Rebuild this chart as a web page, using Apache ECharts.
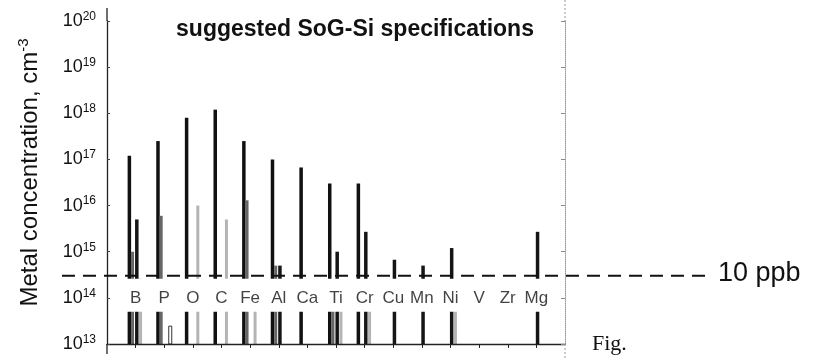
<!DOCTYPE html>
<html>
<head>
<meta charset="utf-8">
<script src="https://cdn.jsdelivr.net/npm/echarts@6/dist/echarts.min.js"></script>
<style>
html,body{margin:0;padding:0;background:#fff;}
#spec_chart{width:828px;height:358px;}
</style>
</head>
<body>
<div id="spec_chart"></div>
<script>
/** 数据 **/
var elements = ['B','P','O','C','Fe','Al','Ca','Ti','Cr','Cu','Mn','Ni','V','Zr','Mg'];
var mainBlack = [1.2e17, 2.5e17, 8e17, 1.2e18, 2.5e17, 1e17, 6.7e16, 3e16, 3e16, null, null, null, null, null, null];
var secondBlack = [5e15, null, null, null, null, 5e14, null, 1e15, 2.7e15, 6.7e14, 5e14, 1.2e15, null, null, 2.7e15];
var midGray = [1e15, 6e15, null, null, 1.3e16, 5e14, null, 2e14, null, null, null, null, null, null, null];
var lightGray = [2.6e14, null, 1e16, 5e15, 1.5e14, null, null, 2e14, 2e14, null, null, 2e14, null, null, null];
var hollowBar = [null, 2.5e13, null, null, null, null, null, null, null, null, null, null, null, null, null];
var yTicks = [1e13, 1e14, 1e15, 1e16, 1e17, 1e18, 1e19, 1e20];
var ppbLevel = 3e14;
var bandLow = 5e13, bandHigh = 2.6e14;

var FONT = '"Liberation Sans", Arial, sans-serif';

function supLabel(v) {
    var e = Math.round(Math.log(v) / Math.LN10);
    return '{b|10}{s|' + e + '}';
}

/** 柱子 **/
function barSeries(values, shift, width, color, border) {
    var data = [];
    for (var i = 0; i < values.length; i++) {
        if (values[i] != null) data.push([i + 1 + shift, values[i]]);
    }
    return {
        type: 'bar',
        data: data,
        barWidth: width,
        barGap: '-100%',
        clip: true,
        z: 2,
        itemStyle: {
            color: color,
            borderColor: border || color,
            borderWidth: border ? 1 : 0
        }
    };
}

function getSpecOption() {
    var labelData = elements.map(function (e, i) { return [i + 1, 1e14]; });
    var ticks = elements.map(function (e, i) { return i + 1; });
    return {
        animation: false,
        title: {
            text: 'suggested SoG-Si specifications',
            left: 350,
            top: 13,
            textAlign: 'center',
            textStyle: { fontFamily: FONT, fontSize: 23, fontWeight: 'bold', color: '#111' }
        },
        grid: { left: 107, right: 263, top: 21, bottom: 14 },
        xAxis: {
            type: 'value',
            min: 0,
            max: 16,
            z: 10,
            axisLine: { show: true, lineStyle: { color: '#222', width: 1.3 } },
            axisTick: { show: true, length: 4, customValues: ticks, lineStyle: { color: '#222' } },
            axisLabel: { show: false },
            splitLine: { show: false }
        },
        yAxis: [{
            type: 'log',
            min: 1e13,
            max: 1e20,
            splitNumber: 7,
            z: 10,
            name: 'Metal concentration, cm{s|-3}',
            nameLocation: 'middle',
            nameGap: 62,
            nameRotate: 90,
            nameTextStyle: {
                fontFamily: FONT, fontSize: 24, color: '#111', padding: [0, 0, 0, 20],
                rich: { s: { fontFamily: FONT, fontSize: 15, color: '#111', padding: [0, 0, 14, 0] } }
            },
            axisLine: { show: true, lineStyle: { color: '#222', width: 1.3 } },
            axisTick: { show: true, inside: true, length: 3, lineStyle: { color: '#444' } },
            axisLabel: {
                margin: 11,
                formatter: supLabel,
                rich: {
                    b: { fontFamily: FONT, fontSize: 18, color: '#111' },
                    s: { fontFamily: FONT, fontSize: 12, color: '#111', padding: [0, 0, 9, 0] }
                }
            },
            splitLine: { show: false }
        }, {
            type: 'log',
            min: 1e13,
            max: 1e20,
            splitNumber: 7,
            position: 'right',
            z: 10,
            axisLine: { show: true, lineStyle: { color: '#999', width: 1, type: 'dotted' } },
            axisTick: { show: true, inside: true, length: 4, lineStyle: { color: '#888' } },
            axisLabel: { show: false },
            splitLine: { show: false }
        }],
        series: [
            barSeries(mainBlack, -0.21, 3.5, '#111'),
            barSeries(secondBlack, 0.05, 3.5, '#151515'),
            barSeries(midGray, -0.09, 3, '#666'),
            barSeries(lightGray, 0.19, 3, '#b4b4b4'),
            barSeries(hollowBar, 0.21, 4, '#fff', '#333'),
            {
                type: 'line',
                data: [],
                z: 4,
                markArea: {
                    silent: true,
                    z: 4,
                    itemStyle: { color: '#fff' },
                    data: [[{ yAxis: bandLow }, { yAxis: bandHigh }]]
                }
            },
            {
                type: 'scatter',
                data: labelData,
                symbolSize: 0,
                z: 6,
                label: {
                    show: true,
                    position: 'inside',
                    fontFamily: FONT,
                    fontSize: 17,
                    color: '#111',
                    formatter: function (p) { return elements[p.dataIndex]; }
                }
            }
        ]
    };
}

var chart = echarts.init(document.getElementById('spec_chart'));
chart.setOption(getSpecOption());

/** 10 ppb 虚线和其它文字 **/
var yPpb = chart.convertToPixel({ yAxisIndex: 0 }, ppbLevel);
var yTop = chart.convertToPixel({ yAxisIndex: 0 }, yTicks[yTicks.length - 1]);
var yBot = chart.convertToPixel({ yAxisIndex: 0 }, yTicks[0]);
var xL = chart.convertToPixel({ xAxisIndex: 0 }, 0);
var xR = chart.convertToPixel({ xAxisIndex: 0 }, 16);
chart.setOption({
    graphic: [
        { type: 'line', z: 100, shape: { x1: 62, y1: yPpb, x2: 707, y2: yPpb },
          style: { stroke: '#111', lineWidth: 2, lineDash: [13, 8] } },
        { type: 'text', z: 100, left: 718, top: yPpb - 16,
          style: { text: '10 ppb', fontFamily: FONT, fontSize: 27, fill: '#111' } },
        { type: 'text', z: 100, left: 592, top: 333,
          style: { text: 'Fig.', fontFamily: '"Liberation Serif", "Times New Roman", serif', fontSize: 22, fill: '#111' } },
        { type: 'line', z: 100, shape: { x1: xL, y1: yTop - 13, x2: xL, y2: yTop },
          style: { stroke: '#222', lineWidth: 1.3 } },
        { type: 'line', z: 100, shape: { x1: xL, y1: yBot, x2: xL, y2: yBot + 10 },
          style: { stroke: '#222', lineWidth: 1.3 } },
        { type: 'line', z: 100, shape: { x1: xR, y1: 0, x2: xR, y2: yTop },
          style: { stroke: '#999', lineWidth: 1, lineDash: [2, 2] } },
        { type: 'line', z: 100, shape: { x1: xR, y1: yBot, x2: xR, y2: 358 },
          style: { stroke: '#999', lineWidth: 1, lineDash: [2, 2] } }
    ]
});
</script>
</body>
</html>
